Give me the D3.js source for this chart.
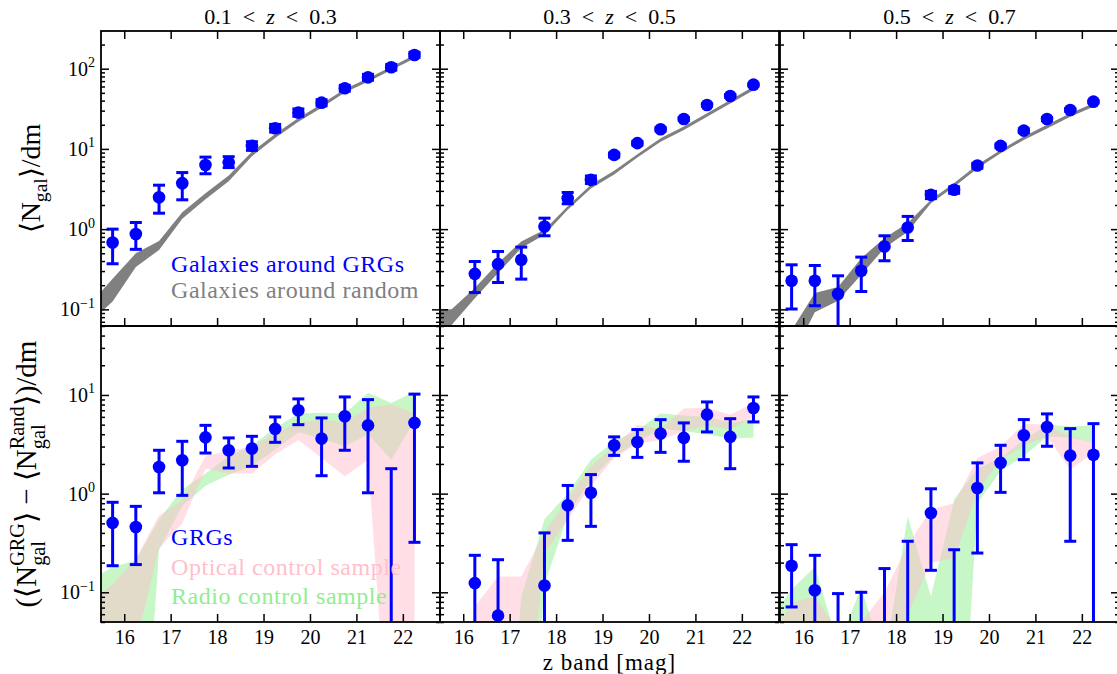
<!DOCTYPE html>
<html>
<head>
<meta charset="utf-8">
<script src="https://cdn.jsdelivr.net/npm/d3@7"></script>
<style>
  body { margin: 0; background: #fff; }
  svg { display: block; }
</style>
</head>
<body>
<div id="chart"></div>
<script>
// ---- data -------------------------------------------------------------
const zBins = [[0.1, 0.3], [0.3, 0.5], [0.5, 0.7]];
const magBins = [15.75, 16.25, 16.75, 17.25, 17.75, 18.25, 18.75, 19.25, 19.75, 20.25, 20.75, 21.25, 21.75, 22.25];
const bandMags = [15.25, 15.75, 16.25, 16.75, 17.25, 17.75, 18.25, 18.75, 19.25, 19.75, 20.25, 20.75, 21.25, 21.75, 22.25];
const xTicks = [16, 17, 18, 19, 20, 21, 22];
const topYTicks = [0.1, 1, 10, 100];
const bottomYTicks = [0.1, 1, 10];

// top row: <N_gal>/dm around GRGs (null = no point)
const grgCounts = [
  [0.68, 0.87, 2.5, 3.74, 6.3, 6.8, 10.9, 18.1, 28.3, 37.7, 57, 78, 104, 148],
  [null, 0.277, 0.366, 0.415, 1.08, 2.43, 4.11, 8.42, 11.8, 17.6, 23.6, 35.3, 45.7, 63.2],
  [0.227, 0.227, 0.155, 0.303, 0.607, 1.05, 2.67, 3.09, 6.2, 10.9, 16.9, 23.6, 30.6, 38.8]
];
const grgCountsLo = [
  [0.37, 0.56, 1.58, 2.32, 4.9, 5.85, 9.6, 16.2, 25.5, 34.5, 52.5, 72, 96, 138],
  [null, 0.162, 0.216, 0.238, 0.826, 2.07, 3.7, 7.9, 11.2, 16.8, 22.6, 34, 44, 61],
  [0.101, 0.111, 0.001, 0.167, 0.403, 0.721, 2.4, 2.8, 5.75, 10.3, 16.0, 22.5, 29.5, 37.5]
];
const grgCountsHi = [
  [1.0, 1.21, 3.53, 5.07, 7.9, 8.0, 12.3, 20.2, 31.5, 41, 62, 85, 113, 160],
  [null, 0.395, 0.526, 0.597, 1.37, 2.86, 4.6, 8.9, 12.4, 18.4, 24.6, 36.7, 47.5, 65.5],
  [0.359, 0.352, 0.262, 0.448, 0.826, 1.44, 2.95, 3.35, 6.6, 11.5, 17.8, 24.7, 31.8, 40.2]
];
// galaxies around random positions (band)
const randomLo = [
  [0.068, 0.125, 0.336, 0.55, 1.35, 2.35, 3.95, 8.1, 13.7, 21.8, 32.6, 50.5, 68.6, 96, 134],
  [0.045, 0.064, 0.138, 0.283, 0.58, 0.85, 1.74, 3.22, 4.8, 7.8, 12.3, 17.2, 25.2, 36.9, 54],
  [0.01, 0.025, 0.092, 0.128, 0.27, 0.58, 0.93, 2.1, 3.38, 5.7, 8.8, 12.9, 18.0, 25.2, 33.5]
];
const randomHi = [
  [0.115, 0.24, 0.50, 0.71, 1.62, 2.8, 4.65, 9.2, 15.3, 24.3, 36.2, 56, 76.2, 106, 148],
  [0.10, 0.10, 0.184, 0.377, 0.70, 0.98, 1.93, 3.57, 5.35, 8.6, 13.6, 19.0, 27.9, 40.8, 60],
  [0.02, 0.055, 0.16, 0.19, 0.435, 0.773, 1.19, 2.33, 3.75, 6.35, 9.7, 14.3, 20.0, 27.9, 37.2]
];

// bottom row: (<N_gal^GRG> - <N_gal^Rand>)/dm
const excess = [
  [0.505, 0.459, 1.86, 2.18, 3.72, 2.75, 2.86, 4.53, 6.99, 3.61, 6.08, 4.92, null, 5.21],
  [null, 0.124, 0.058, null, 0.117, 0.76, 1.02, 3.09, 3.34, 4.06, 3.67, 6.32, 3.76, 7.39],
  [0.186, 0.105, null, null, null, null, 0.637, null, 1.14, 2.05, 3.9, 4.74, 2.43, 2.48]
];
const excessLo = [
  [0.186, 0.191, 1.02, 0.96, 2.58, 1.82, 1.89, 3.31, 5.0, 1.52, 2.75, 1.02, 0.001, 0.321],
  [null, 0.001, 0.001, null, 0.001, 0.336, 0.466, 2.44, 2.33, 2.62, 2.13, 4.22, 1.79, 5.33],
  [0.071, 0.001, 0.001, 0.001, 0.001, 0.001, 0.167, 0.001, 0.25, 1.03, 2.21, 3.02, 0.329, 0.001]
];
const excessHi = [
  [0.817, 0.743, 2.75, 3.39, 4.92, 3.67, 3.81, 5.99, 9.12, 5.85, 9.55, 8.97, 1.79, 10.2],
  [null, 0.237, 0.214, null, 0.40, 1.21, 1.56, 3.76, 4.46, 5.62, 5.21, 8.5, 5.75, 9.55],
  [0.304, 0.237, 0.097, 0.1, 0.174, 0.329, 1.12, 0.27, 2.05, 3.09, 5.63, 6.43, 4.56, 5.12]
];
// control samples (bands)
const opticalLo = [
  [0.001, 0.01, 0.03, 0.28, 0.5, 1.8, 1.6, 1.6, 2.5, 3.5, 2.3, 1.5, 2.2, 0.001, 0.001],
  [0.0001, 0.0001, 0.001, 0.001, 0.001, 0.25, 0.55, 1.2, 2.3, 3.2, 3.5, 4.3, 4.9, 4.5, 6.0],
  [0.0001, 0.0001, 0.0001, 0.0001, 0.0001, 0.0001, 0.06, 0.2, 0.22, 1.05, 2.2, 3.1, 3.8, 1.75, 2.6]
];
const opticalHi = [
  [0.08, 0.12, 0.22, 0.6, 0.85, 2.4, 2.7, 3.0, 4.1, 5.2, 5.6, 5.3, 7.4, 8.0, 6.5],
  [0.0005, 0.0005, 0.072, 0.145, 0.145, 0.4, 0.9, 1.9, 3.0, 5.0, 4.5, 7.3, 7.4, 6.3, 8.3],
  [0.03, 0.079, 0.091, 0.04, 0.05, 0.1, 0.3, 0.69, 0.8, 2.3, 3.0, 5.1, 5.0, 3.8, 3.3]
];
const radioLo = [
  [0.001, 0.001, 0.0001, 0.27, 0.75, 1.2, 1.55, 1.9, 2.8, 4.2, 3.6, 3.0, 4.0, 2.2, 5.5],
  [0.0001, 0.0001, 0.0001, 0.0001, 0.0001, 0.12, 0.6, 1.4, 2.4, 3.3, 4.6, 4.3, 4.0, 3.6, 3.7],
  [0.0001, 0.0001, 0.0001, 0.0001, 0.0001, 0.0001, 0.0001, 0.0001, 0.0001, 0.8, 1.7, 2.4, 3.8, 3.7, 3.3]
];
const radioHi = [
  [0.13, 0.18, 0.21, 0.55, 1.1, 1.6, 2.4, 3.1, 4.6, 6.5, 6.6, 6.5, 10.5, 8.3, 10.8],
  [0.0001, 0.0001, 0.0001, 0.0001, 0.09, 0.55, 1.0, 2.2, 3.4, 4.4, 6.5, 6.2, 6.0, 5.2, 5.7],
  [0.05, 0.107, 0.18, 0.03, 0.11, 0.02, 0.59, 0.09, 0.87, 1.8, 2.3, 3.5, 5.0, 4.8, 4.9]
];

const legendTop = [['Galaxies around GRGs', 'blue'], ['Galaxies around random', 'gray']];
const legendBottom = [['GRGs', 'blue'], ['Optical control sample', 'pink'], ['Radio control sample', 'lightgreen']];

// ---- layout -----------------------------------------------------------
const width = 1117, height = 674;
const panelLeft = [101, 440, 780], panelW = 339;
const xDomain = [15.5, 22.8];
const rows = [
  { top: 31, bottom: 326, domain: [0.062, 295], ticks: topYTicks },
  { top: 326, bottom: 622, domain: [0.05, 50], ticks: bottomYTicks }
];
const serif = '"Liberation Serif", "Times New Roman", serif';

const svg = d3.select('#chart').append('svg')
    .attr('width', width)
    .attr('height', height)
    .attr('font-family', serif);

const xScale = c => d3.scaleLinear().domain(xDomain).range([panelLeft[c], panelLeft[c] + panelW]);
const yScale = r => d3.scaleLog().domain(rows[r].domain).range([rows[r].bottom, rows[r].top]);

function drawPanel(r, c, bands, v, lo, hi) {
    const x = xScale(c), y = yScale(r);
    const L = panelLeft[c], T = rows[r].top, B = rows[r].bottom;
    const id = `clip-${r}-${c}`;
    svg.append('clipPath').attr('id', id)
        .append('rect')
            .attr('x', L).attr('y', T)
            .attr('width', panelW).attr('height', B - T);
    const g = svg.append('g').attr('clip-path', `url(#${id})`);

    bands.forEach(b => {
        const pts = bandMags.map((m, i) => [m, b.lo[i], b.hi[i]]);
        g.append('path')
            .datum(pts)
            .attr('d', d3.area().x(d => x(d[0])).y0(d => y(d[1])).y1(d => y(d[2])))
            .attr('fill', b.color)
            .attr('fill-opacity', b.alpha);
    });

    const pts = magBins.map((m, i) => ({ m, v: v[i], lo: lo[i], hi: hi[i] }))
        .filter(d => d.hi != null);
    g.selectAll(null).data(pts).enter().append('line')
        .attr('x1', d => x(d.m)).attr('x2', d => x(d.m))
        .attr('y1', d => y(d.lo)).attr('y2', d => y(d.hi))
        .attr('stroke', 'blue').attr('stroke-width', 3);
    ['lo', 'hi'].forEach(k => {
        g.selectAll(null).data(pts).enter().append('line')
            .attr('x1', d => x(d.m) - 6).attr('x2', d => x(d.m) + 6)
            .attr('y1', d => y(d[k])).attr('y2', d => y(d[k]))
            .attr('stroke', 'blue').attr('stroke-width', 3);
    });
    g.selectAll(null).data(pts.filter(d => d.v != null)).enter().append('circle')
        .attr('cx', d => x(d.m))
        .attr('cy', d => y(d.v))
        .attr('r', 6.3)
        .attr('fill', 'blue');
}

function supLabels(sel) {
    sel.selectAll('.tick text').each(function (d) {
        const e = Math.round(Math.log10(d));
        const t = d3.select(this).text(null);
        t.append('tspan').text('10');
        t.append('tspan').attr('dy', '-0.6em').attr('font-size', 14).text(e < 0 ? '\u2212' + (-e) : e);
    });
}

function drawAxes(r, c) {
    const x = xScale(c), y = yScale(r);
    const L = panelLeft[c], R = L + panelW, T = rows[r].top, B = rows[r].bottom;
    const majors = rows[r].ticks;
    const minors = y.ticks().filter(t => !majors.some(m => Math.abs(m - t) < 1e-9));
    const style = g => {
        g.select('.domain').remove();
        g.selectAll('.tick line').attr('stroke', '#000').attr('stroke-width', 1.5);
        g.attr('font-family', serif).attr('font-size', 20);
        g.selectAll('.tick text').attr('fill', '#000');
    };

    const left = svg.append('g').attr('transform', `translate(${L},0)`)
        .call(d3.axisLeft(y).tickValues(majors).tickSize(-8).tickPadding(6)
            .tickFormat(c === 0 ? d3.format('') : ''))
        .call(style);
    if (c === 0) left.call(supLabels);
    svg.append('g').attr('transform', `translate(${L},0)`)
        .call(d3.axisLeft(y).tickValues(minors).tickSize(-4).tickFormat(''))
        .call(style);
    svg.append('g').attr('transform', `translate(${R},0)`)
        .call(d3.axisRight(y).tickValues(majors).tickSize(-8).tickFormat(''))
        .call(style);
    svg.append('g').attr('transform', `translate(${R},0)`)
        .call(d3.axisRight(y).tickValues(minors).tickSize(-4).tickFormat(''))
        .call(style);
    if (r === 0) {
        svg.append('g').attr('transform', `translate(0,${T})`)
            .call(d3.axisTop(x).tickValues(xTicks).tickSize(-8).tickFormat(''))
            .call(style);
    }
    svg.append('g').attr('transform', `translate(0,${B})`)
        .call(d3.axisBottom(x).tickValues(xTicks).tickSize(-8).tickPadding(8)
            .tickFormat(r === 1 ? d3.format('d') : ''))
        .call(style);

    svg.append('rect')
        .attr('x', L).attr('y', T)
        .attr('width', panelW).attr('height', B - T)
        .attr('fill', 'none').attr('stroke', '#000').attr('stroke-width', 1.8);
}

for (let c = 0; c < 3; c++) {
    drawPanel(0, c, [{ lo: randomLo[c], hi: randomHi[c], color: 'gray', alpha: 1 }],
        grgCounts[c], grgCountsLo[c], grgCountsHi[c]);
    drawPanel(1, c, [
        { lo: radioLo[c], hi: radioHi[c], color: 'lightgreen', alpha: 0.5 },
        { lo: opticalLo[c], hi: opticalHi[c], color: 'pink', alpha: 0.5 }
    ], excess[c], excessLo[c], excessHi[c]);
}

// legends
const legendText = (t, col, yy) => svg.append('text')
    .attr('x', 171).attr('y', yy)
    .attr('font-size', 24).attr('letter-spacing', 0.55)
    .attr('fill', col).text(t);
legendTop.forEach(([t, col], i) => legendText(t, col, 272 + i * 26));
legendBottom.forEach(([t, col], i) => legendText(t, col, 545 + i * 29.5));

for (let r = 0; r < 2; r++) for (let c = 0; c < 3; c++) drawAxes(r, c);

// column titles
zBins.forEach(([a, b], c) => {
    const t = svg.append('text')
        .attr('x', panelLeft[c] + panelW / 2).attr('y', 24)
        .attr('text-anchor', 'middle')
        .attr('font-size', 22);
    t.append('tspan').text(a);
    t.append('tspan').attr('dx', 11).text('<');
    t.append('tspan').attr('dx', 11).attr('font-style', 'italic').text('z');
    t.append('tspan').attr('dx', 11).text('<');
    t.append('tspan').attr('dx', 11).text(b);
});

// x label
svg.append('text')
    .attr('x', panelLeft[1] + panelW / 2).attr('y', 670)
    .attr('text-anchor', 'middle')
    .attr('font-size', 23).attr('letter-spacing', 1)
    .text('z band [mag]');

// rotated math-like y labels
function mathLabel(cx, cy, size, parts) {
    const g = svg.append('g').attr('fill', '#000');
    const inner = g.append('g');
    let cursor = 0, lastStart = 0;
    parts.forEach(p => {
        const start = p.stack ? lastStart : cursor;
        const t = inner.append('text')
            .attr('x', start).attr('y', (p.dy || 0) * size)
            .attr('font-size', size * (p.s || 1))
            .text(p.t);
        const w = t.node().getComputedTextLength();
        cursor = Math.max(cursor, start + w);
        if (!p.stack) lastStart = start;
    });
    inner.attr('transform', `translate(${-cursor / 2},0)`);
    g.attr('transform', `translate(${cx},${cy}) rotate(-90)`);
}

mathLabel(40, (rows[0].top + rows[0].bottom) / 2, 28, [
    { t: '\u27E8N' },
    { t: 'gal', s: 0.7, dy: 0.25 },
    { t: '\u27E9/dm' }
]);
mathLabel(36, (rows[1].top + rows[1].bottom) / 2, 29, [
    { t: '(\u27E8N' },
    { t: 'gal', s: 0.7, dy: 0.3 },
    { t: 'GRG', s: 0.7, dy: -0.42, stack: true },
    { t: '\u27E9 \u2212 \u27E8N' },
    { t: 'gal', s: 0.7, dy: 0.3 },
    { t: 'Rand', s: 0.7, dy: -0.42, stack: true },
    { t: '\u27E9)/dm' }
]);
</script>
</body>
</html>
